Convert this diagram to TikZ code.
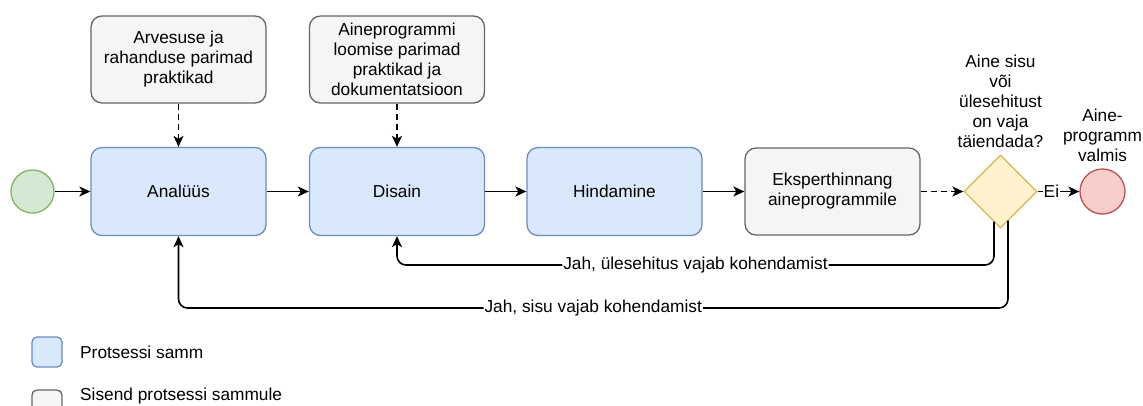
\documentclass[tikz,border=0pt]{standalone}
\usepackage{fontspec}
\setmainfont{Liberation Sans}
\usepackage{xcolor}
\usetikzlibrary{arrows.meta,positioning,calc,shapes.geometric}
\definecolor{blfill}{HTML}{DAE8FC}
\definecolor{bldraw}{HTML}{6C8EBF}
\definecolor{gyfill}{HTML}{F5F5F5}
\definecolor{gydraw}{HTML}{666666}
\definecolor{grfill}{HTML}{D5E8D4}
\definecolor{grdraw}{HTML}{82B366}
\definecolor{yefill}{HTML}{FFF2CC}
\definecolor{yedraw}{HTML}{D6B656}
\definecolor{rdfill}{HTML}{F8CECC}
\definecolor{rddraw}{HTML}{B85450}

\begin{document}
\begin{tikzpicture}[x=1pt, y=-1pt, font=\fontsize{17.3}{20}\selectfont,
  ar/.style={-{Stealth[length=11pt,width=10pt,inset=3pt]}, line width=1.6pt},
  dsh/.style={ar, dash pattern=on 6pt off 4pt},
  stepbox/.style={draw=bldraw, fill=blfill, rounded corners=11pt, line width=1.3pt,
    minimum width=175pt, minimum height=88pt, align=center},
  inbox/.style={draw=gydraw, fill=gyfill, rounded corners=11pt, line width=1.3pt,
    minimum width=175pt, minimum height=87pt, align=center},
  lbl/.style={fill=white, inner sep=1pt}]
  % y axis points down: coordinates are read off the reference in pixels
  \useasboundingbox (0,0) rectangle (1143,405);
  \clip (0,0) rectangle (1143,405);
  % process steps
  \node[circle, draw=grdraw, fill=grfill, line width=1.3pt, minimum size=43pt, inner sep=0pt] (start) at (32.5,191.5) {};
  \node[stepbox] (ana)  at (178.5,191.5) {Analüüs};
  \node[stepbox] (dis)  at (397,191.5) {Disain};
  \node[stepbox] (hind) at (614.5,191.5) {Hindamine};
  \node[inbox]   (eksp) at (832.5,191.5) {Eksperthinnang\\aineprogrammile};
  \node[diamond, draw=yedraw, fill=yefill, line width=1.3pt, minimum size=73pt, inner sep=0pt] (dec) at (1000.5,191.5) {};
  \node[circle, draw=rddraw, fill=rdfill, line width=1.3pt, minimum size=45pt, inner sep=0pt] (fin) at (1102.5,191.5) {};
  \node[anchor=south, align=center, inner sep=1pt] (q) at ($(dec.north)+(0,-5)$) {Aine sisu\\või\\ülesehitust\\on vaja\\täiendada?};
  \node[anchor=south, align=center, inner sep=1pt] (ql) at ($(fin.north)+(0,-5)$) {Aine-\\programm\\valmis};
  % inputs
  \node[inbox] (arv)  at (178.5,59.5) {Arvesuse ja\\rahanduse parimad\\praktikad};
  \node[inbox] (aine) at (397,59.5) {Aineprogrammi\\loomise parimad\\praktikad ja\\dokumentatsioon};
  % main flow
  \draw[ar] (start) -- (ana);
  \draw[ar] (ana) -- (dis);
  \draw[ar] (dis) -- (hind);
  \draw[ar] (hind) -- (eksp);
  \draw[dsh] (eksp) -- (dec);
  \draw[dsh] (arv) -- (ana);
  \draw[dsh] (aine) -- (dis);
  \draw[ar] (dec) -- node[lbl, pos=0.33] {Ei} (fin);
  % feedback loops
  \coordinate (d1) at (994,221.5);
  \coordinate (d2) at (1008,220.5);
  \coordinate (fb1) at (0,265);
  \coordinate (fb2) at (0,308);
  \draw[ar, rounded corners=9pt] (d1) -- (d1 |- fb1)
    -- node[lbl, pos=0.5] {Jah, ülesehitus vajab kohendamist} (dis.south |- fb1) -- (dis.south);
  \draw[ar, rounded corners=9pt] (d2) -- (d2 |- fb2)
    -- node[lbl, pos=0.5] {Jah, sisu vajab kohendamist} (ana.south |- fb2) -- (ana.south);
  % legend
  \node[draw=bldraw, fill=blfill, rounded corners=5pt, line width=1.3pt, minimum size=30pt, inner sep=0pt] (legA) at (47,352) {};
  \node[anchor=west, inner sep=0pt] (txtA) at (80,352) {Protsessi samm};
  \node[draw=gydraw, fill=gyfill, rounded corners=5pt, line width=1.3pt, minimum size=30pt, inner sep=0pt] (legB) at (47,405) {};
  \node[anchor=west, inner sep=0pt] (txtB) at (80,396) {Sisend protsessi sammule};
\end{tikzpicture}
\end{document}
